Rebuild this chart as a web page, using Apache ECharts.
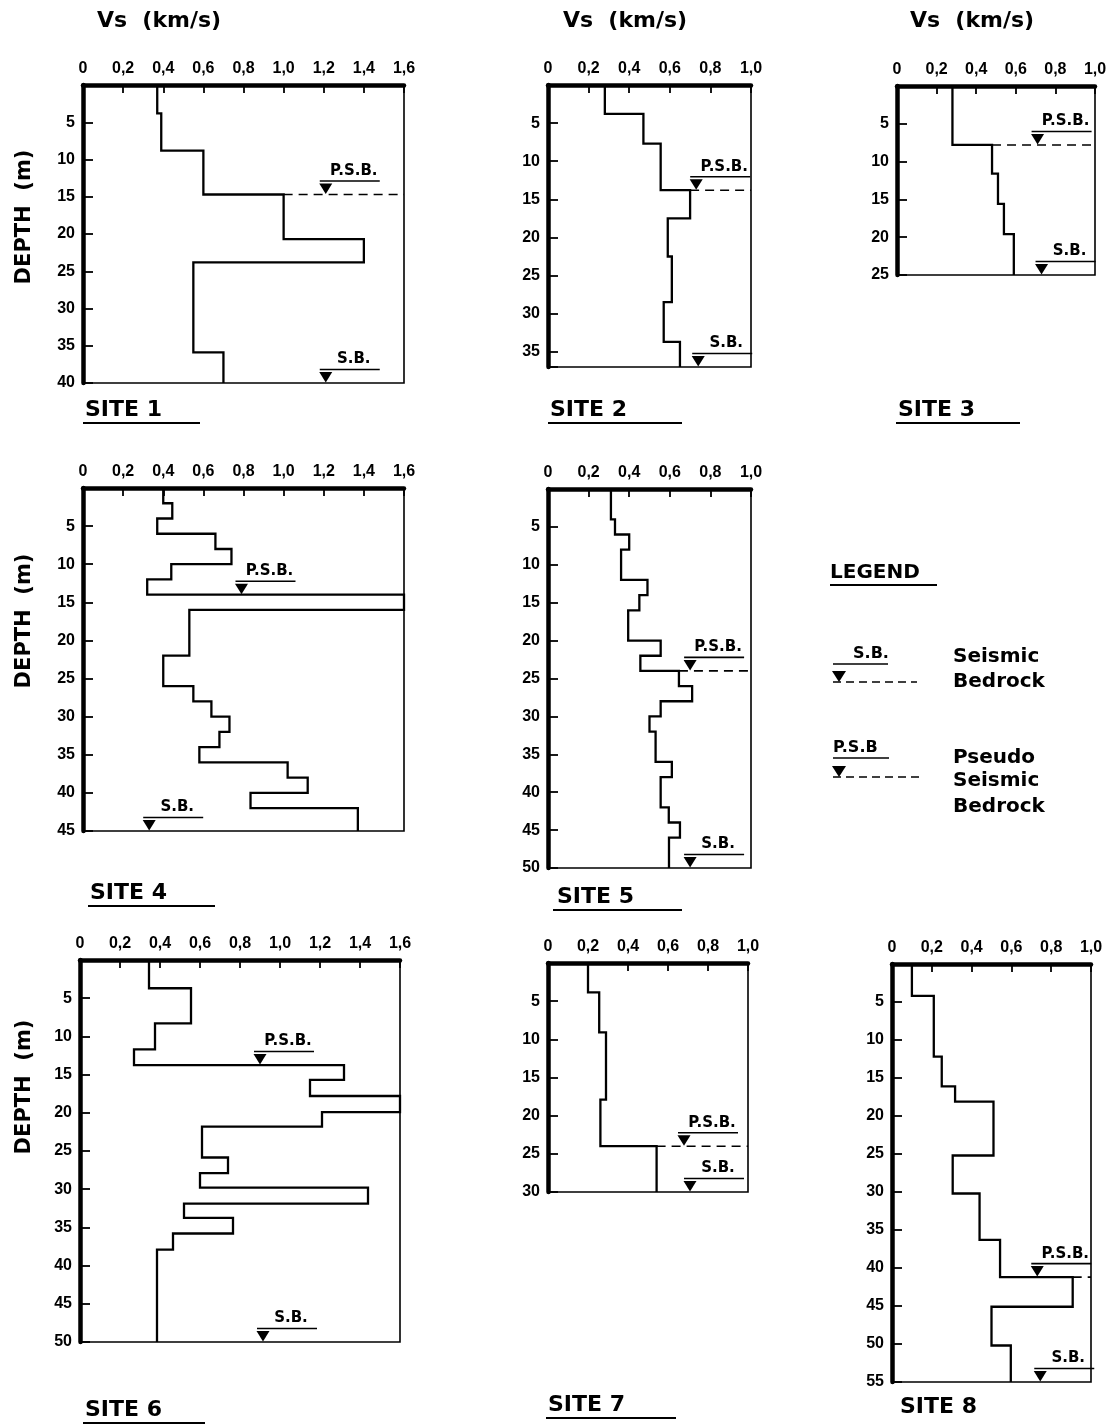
<!DOCTYPE html>
<html><head><meta charset="utf-8">
<script src="https://cdn.jsdelivr.net/npm/echarts@6/dist/echarts.min.js"></script>
<style>html,body{margin:0;padding:0;background:#fff}#c{width:1109px;height:1428px}</style>
</head><body><div id="c"></div>
<script>
// ---------- data ----------
const siteNames = ['SITE 1','SITE 2','SITE 3','SITE 4','SITE 5','SITE 6','SITE 7','SITE 8'];
const vsMax    = [1.6, 1.0, 1.0, 1.6, 1.0, 1.6, 1.0, 1.0];
const depthMax = [40, 37, 25, 45, 50, 50, 30, 55];

const site1Depth = [0, 3.8, 8.8, 14.7, 20.7, 23.8, 35.9, 40];
const site1Vs    = [0.37, 0.39, 0.60, 1.00, 1.40, 0.55, 0.70];
const site2Depth = [0, 3.8, 7.7, 13.8, 17.5, 22.5, 28.5, 33.7, 37];
const site2Vs    = [0.28, 0.47, 0.555, 0.70, 0.59, 0.61, 0.57, 0.65];
const site3Depth = [0, 7.8, 11.6, 15.6, 19.6, 25];
const site3Vs    = [0.28, 0.48, 0.51, 0.54, 0.59];
const site4Depth = [0, 2, 4, 6, 8, 10, 12, 14, 16, 22, 26, 28, 30, 32, 34, 36, 38, 40, 42, 45];
const site4Vs    = [0.40, 0.445, 0.37, 0.66, 0.74, 0.44, 0.32, 1.6, 0.53, 0.40, 0.55, 0.64, 0.73, 0.68, 0.58, 1.02, 1.12, 0.835, 1.37];
const site5Depth = [0, 4, 6, 8, 12, 14, 16, 20, 22, 24, 26, 28, 30, 32, 36, 38, 42, 44, 46, 50];
const site5Vs    = [0.31, 0.33, 0.40, 0.36, 0.49, 0.45, 0.395, 0.555, 0.455, 0.645, 0.71, 0.555, 0.50, 0.53, 0.61, 0.555, 0.595, 0.65, 0.596];
const site6Depth = [0, 3.7, 8.3, 11.7, 13.75, 15.7, 17.8, 19.9, 21.8, 25.85, 27.9, 29.8, 31.9, 33.75, 35.8, 37.9, 50];
const site6Vs    = [0.345, 0.555, 0.375, 0.27, 1.32, 1.15, 1.6, 1.21, 0.61, 0.74, 0.60, 1.44, 0.52, 0.765, 0.465, 0.385];
const site7Depth = [0, 3.85, 9.1, 17.9, 24, 30];
const site7Vs    = [0.20, 0.256, 0.29, 0.262, 0.543];
const site8Depth = [0, 4.2, 12.2, 16.1, 18.1, 25.2, 30.2, 36.3, 41.2, 45.1, 50.2, 55];
const site8Vs    = [0.10, 0.21, 0.25, 0.317, 0.51, 0.305, 0.44, 0.543, 0.908, 0.50, 0.597];

const psbVs     = [1.21, 0.73, 0.71, 0.79, 0.70, 0.90, 0.68, 0.73];
const psbDepth  = [14.7, 13.8, 7.8, 14, 24, 13.75, 24, 41.2];
const psbDashed = [true, true, true, false, true, false, true, true];
const sbVs      = [1.21, 0.74, 0.73, 0.33, 0.70, 0.915, 0.71, 0.745];
const sbDepth   = [40, 37, 25, 45, 50, 50, 30, 55];

const xTickStep = 0.2;
const yTickStep = 5;

const depths = [site1Depth, site2Depth, site3Depth, site4Depth, site5Depth, site6Depth, site7Depth, site8Depth];
const vss    = [site1Vs, site2Vs, site3Vs, site4Vs, site5Vs, site6Vs, site7Vs, site8Vs];

// ---------- layout ----------
const FONT = "'DejaVu Sans', 'Liberation Sans', sans-serif";
const NUMFONT = "'Liberation Sans', Arial, sans-serif";
const grids = [
  {left: 83,  top: 85,  width: 321, height: 298},
  {left: 548, top: 85,  width: 203, height: 282},
  {left: 897, top: 86,  width: 198, height: 189},
  {left: 83,  top: 488, width: 321, height: 343},
  {left: 548, top: 489, width: 203, height: 379},
  {left: 80,  top: 960, width: 320, height: 382},
  {left: 548, top: 963, width: 200, height: 229},
  {left: 892, top: 964, width: 199, height: 418}
];

function profile(d, v) {
  const pts = [];
  for (let i = 0; i < v.length; i++) { pts.push([v[i], d[i]]); pts.push([v[i], d[i + 1]]); }
  return pts;
}

const option = {
  animation: false,
  backgroundColor: '#fff',
  grid: grids.map(g => Object.assign({show: true, borderColor: '#000', borderWidth: 1.6, outerBoundsMode: 'none', containLabel: false}, g)),
  xAxis: grids.map((g, i) => ({
    type: 'value', gridIndex: i, position: 'top', min: 0, max: vsMax[i], interval: xTickStep,
    axisLine: {show: true, lineStyle: {color: '#000', width: 4.5}},
    axisTick: {show: true, inside: true, length: 8, lineStyle: {color: '#000', width: 1.8}},
    axisLabel: {color: '#000', fontFamily: NUMFONT, fontWeight: 'bold', fontSize: 16, margin: 8,
      formatter: v => v === 0 ? '0' : v.toFixed(1).replace('.', ',')},
    splitLine: {show: false}
  })),
  yAxis: grids.map((g, i) => ({
    type: 'value', gridIndex: i, inverse: true, min: 0, max: depthMax[i], interval: yTickStep,
    axisLine: {show: true, lineStyle: {color: '#000', width: 4.5}},
    axisTick: {show: true, inside: true, length: 10, lineStyle: {color: '#000', width: 1.8}},
    axisLabel: {color: '#000', fontFamily: NUMFONT, fontWeight: 'bold', fontSize: 16, margin: 8,
      formatter: v => (v === 0 || Math.abs(v % 5) > 1e-6) ? '' : String(v)},
    splitLine: {show: false}
  })),
  series: [],
  graphic: []
};

for (let i = 0; i < 8; i++) {
  option.series.push({
    type: 'line', xAxisIndex: i, yAxisIndex: i, data: profile(depths[i], vss[i]),
    showSymbol: false, symbol: 'none', silent: true,
    lineStyle: {color: '#000', width: 2.3, join: 'miter'}
  });
  let dashFrom = -1;
  if (psbDashed[i]) {
    const k = depths[i].indexOf(psbDepth[i]);
    dashFrom = Math.max(vss[i][k - 1], vss[i][k]);
  }
  const xm = vsMax[i];
  option.series.push({
    type: 'custom', xAxisIndex: i, yAxisIndex: i, clip: false, silent: true,
    data: [[psbVs[i], psbDepth[i], 1, dashFrom], [sbVs[i], sbDepth[i], 0, -1]],
    renderItem: (params, api) => {
      const v = api.value(0), d = api.value(1), kind = api.value(2), df = api.value(3);
      const p = api.coord([v, d]);
      const ch = [];
      ch.push({type: 'polygon', shape: {points: [[p[0] - 6.5, p[1] - 11], [p[0] + 6.5, p[1] - 11], [p[0], p[1] - 0.5]]}, style: {fill: '#000'}});
      ch.push({type: 'line', shape: {x1: p[0] - 6, y1: p[1] - 13.5, x2: p[0] + 54, y2: p[1] - 13.5}, style: {stroke: '#000', lineWidth: 1.6}});
      ch.push({type: 'text', style: {text: kind ? 'P.S.B.' : 'S.B.', x: p[0] + 28, y: p[1] - 16,
        align: 'center', verticalAlign: 'bottom', font: 'bold 15px ' + FONT, fill: '#000'}});
      if (df >= 0) {
        const a = api.coord([df, d]), b = api.coord([xm, d]);
        ch.push({type: 'line', shape: {x1: a[0], y1: a[1], x2: b[0], y2: b[1]}, style: {stroke: '#000', lineWidth: 1.6, lineDash: [9, 6]}});
      }
      return {type: 'group', children: ch};
    }
  });
}

// ---------- text decorations ----------
function txt(x, y, text, size, align, rot) {
  return {type: 'text', x: x, y: y, rotation: rot || 0,
    style: {text: text, font: 'bold ' + size + 'px ' + FONT, fill: '#000', align: align || 'center', verticalAlign: 'middle'}};
}
function hline(x1, x2, y, w, dash) {
  return {type: 'line', shape: {x1: x1, y1: y, x2: x2, y2: y}, style: {stroke: '#000', lineWidth: w || 1.8, lineDash: dash || null}};
}
const G = option.graphic;
[[159, 21], [625, 21], [972, 21]].forEach(p => G.push(txt(p[0], p[1], 'Vs  (km/s)', 22)));
[[25, 217], [25, 621], [25, 1087]].forEach(p => G.push(txt(p[0], p[1], 'DEPTH  (m)', 21, 'center', Math.PI / 2)));

const titlePos = [[85, 410, 83, 200, 423], [550, 410, 548, 682, 423], [898, 410, 896, 1020, 423],
                  [90, 893, 88, 215, 906], [557, 897, 553, 682, 910], [85, 1410, 83, 205, 1423],
                  [548, 1405, 546, 676, 1418], [900, 1407, -1, -1, -1]];
titlePos.forEach((t, i) => {
  G.push(txt(t[0], t[1], siteNames[i], 22, 'left'));
  if (t[2] >= 0) G.push(hline(t[2], t[3], t[4], 1.8));
});

// legend
G.push(txt(830, 573, 'LEGEND', 20, 'left'));
G.push(hline(830, 937, 585, 2));
G.push(txt(871, 654, 'S.B.', 16, 'center'));
G.push(hline(833, 888, 664, 1.6));
G.push({type: 'polygon', shape: {points: [[832, 671], [846, 671], [839, 682]]}, style: {fill: '#000'}});
G.push(hline(833, 917, 682, 1.6, [8, 5]));
G.push(txt(953, 657, 'Seismic', 20, 'left'));
G.push(txt(953, 682, 'Bedrock', 20, 'left'));
G.push(txt(833, 748, 'P.S.B', 16, 'left'));
G.push(hline(833, 889, 758, 1.6));
G.push({type: 'polygon', shape: {points: [[832, 766], [846, 766], [839, 777]]}, style: {fill: '#000'}});
G.push(hline(833, 920, 777, 1.6, [8, 5]));
G.push(txt(953, 758, 'Pseudo', 20, 'left'));
G.push(txt(953, 781, 'Seismic', 20, 'left'));
G.push(txt(953, 807, 'Bedrock', 20, 'left'));

const chart = echarts.init(document.getElementById('c'), null, {renderer: 'canvas', width: 1109, height: 1428});
chart.setOption(option);
</script>
</body></html>
